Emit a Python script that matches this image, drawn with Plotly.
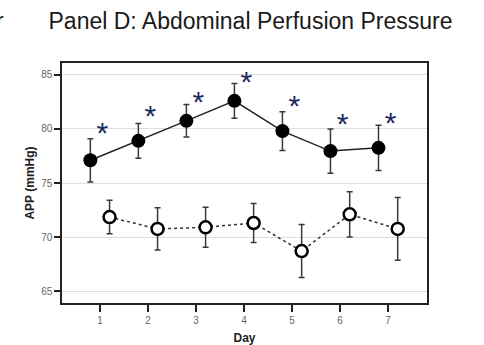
import plotly.graph_objects as go

days = [1, 2, 3, 4, 5, 6, 7]
tick_labels = ["1", "2", "3", "4", "5", "6", "7"]

# Group A (filled circles): mean and error half-width
group_a_mean = [77.1, 78.9, 80.75, 82.6, 79.8, 77.95, 78.25]
group_a_err = [2.0, 1.6, 1.5, 1.6, 1.8, 2.05, 2.1]

# Group B (open circles): mean and error half-width
group_b_mean = [71.85, 70.75, 70.9, 71.3, 68.7, 72.1, 70.75]
group_b_err = [1.55, 1.95, 1.85, 1.8, 2.45, 2.1, 2.9]

# Significance asterisk positions (y values)
sig_y = [79.35, 80.95, 82.25, 84.15, 81.85, 80.25, 80.35]

y_ticks = [65, 70, 75, 80, 85]

DODGE = 0.2
xa = [d - DODGE for d in days]
xb = [d + DODGE for d in days]
xs = [d + 0.05 for d in days]

fig = go.Figure()

fig.add_trace(go.Scatter(
    x=xb, y=group_b_mean, mode="lines+markers",
    line=dict(color="#333333", width=1.5, dash="dot"),
    marker=dict(symbol="circle", size=12, color="white",
                line=dict(color="black", width=2.5)),
    error_y=dict(type="data", array=group_b_err, visible=True,
                 color="#3a3a3a", thickness=1.5, width=3),
    showlegend=False,
))

fig.add_trace(go.Scatter(
    x=xa, y=group_a_mean, mode="lines+markers",
    line=dict(color="#222222", width=1.5),
    marker=dict(symbol="circle", size=14, color="black",
                line=dict(color="black", width=0)),
    error_y=dict(type="data", array=group_a_err, visible=True,
                 color="#3a3a3a", thickness=1.5, width=3),
    showlegend=False,
))

fig.add_trace(go.Scatter(
    x=xs, y=sig_y, mode="text", text=["*"] * len(days),
    textposition="middle center",
    textfont=dict(family="Liberation Sans, Arial", size=30, color="#1c2a5c"),
    showlegend=False,
))

fig.update_layout(
    width=484, height=345,
    margin=dict(l=62, r=57, t=63, b=42),
    paper_bgcolor="white", plot_bgcolor="white",
    font=dict(family="Liberation Sans, Arial", color="#666666"),
    title=dict(text="Panel D: Abdominal Perfusion Pressure",
               x=250.5 / 484, xanchor="center", y=1 - 21 / 345, yanchor="middle",
               font=dict(family="Liberation Sans, Arial", size=23, color="#1a1a1a")),
    xaxis=dict(
        range=[0.21, 7.81], tickmode="array", tickvals=days, ticktext=tick_labels,
        showgrid=False, zeroline=False, automargin=False,
        showline=True, linecolor="#222222", linewidth=1.5, mirror=True,
        ticks="outside", ticklen=7, tickcolor="#222222", tickwidth=1.5,
        tickfont=dict(size=10, color="#666666"),
        title=dict(text="<b>Day</b>", font=dict(size=12, color="#222222"), standoff=9),
    ),
    yaxis=dict(
        range=[63.9, 86.1], tickmode="array", tickvals=y_ticks,
        ticktext=[str(v) for v in y_ticks],
        showgrid=True, gridcolor="#dddddd", gridwidth=1, zeroline=False, automargin=False,
        showline=True, linecolor="#222222", linewidth=1.5, mirror=True,
        ticks="outside", ticklen=6, tickcolor="#222222", tickwidth=1.5,
        tickfont=dict(size=10, color="#666666"),
        title=dict(text="<b>APP (mmHg)</b>", font=dict(size=12, color="#222222"), standoff=4),
    ),
    annotations=[dict(
        text="r", xref="paper", yref="paper",
        x=-56 / 365, y=1 + (63 - 21) / 240, xanchor="right", yanchor="middle",
        showarrow=False,
        font=dict(family="Liberation Sans, Arial", size=23, color="#1a1a1a"),
    )],
)

fig.write_html("out.html", config={"displayModeBar": False},
               post_script="document.body.style.margin='0';")
